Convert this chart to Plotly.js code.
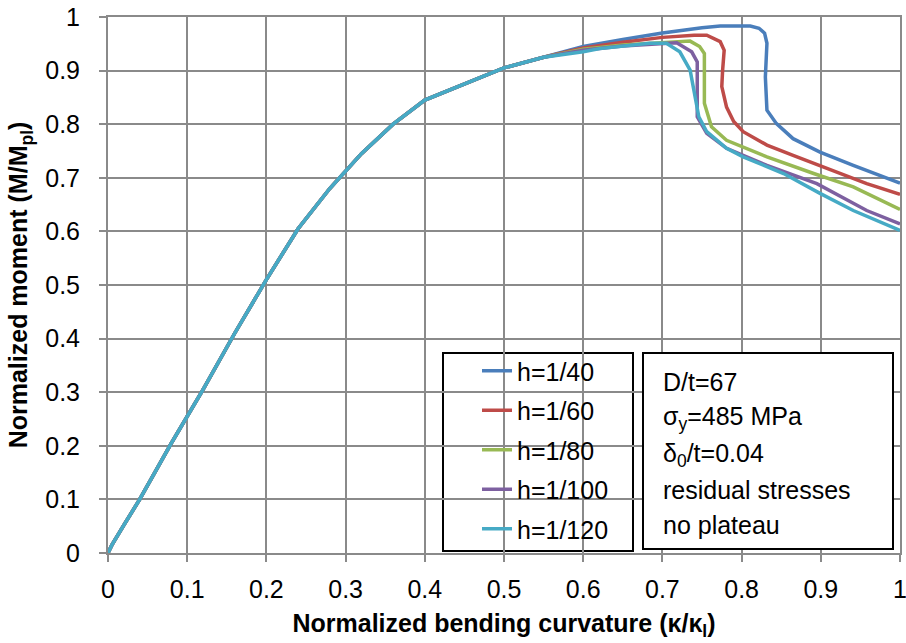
<!DOCTYPE html>
<html>
<head>
<meta charset="utf-8">
<script src="https://cdn.plot.ly/plotly-3.0.1.min.js"></script>
<style>html,body{margin:0;padding:0;background:#fff;}#chart{width:906px;height:643px;}</style>
</head>
<body>
<div id="chart"></div>
<script>
// ---- data ----
var seriesNames = ["h=1/40", "h=1/60", "h=1/80", "h=1/100", "h=1/120"];
var seriesColors = ["#4A7EBB", "#BE4B48", "#98B954", "#7D60A0", "#46AAC5"];

// shared rising branch
var riseX = [0, 0.005, 0.02, 0.04, 0.08, 0.12, 0.16, 0.20, 0.24, 0.28, 0.32, 0.36, 0.40, 0.45, 0.50, 0.55];
var riseY = [0, 0.015, 0.052, 0.10, 0.205, 0.305, 0.41, 0.51, 0.605, 0.68, 0.745, 0.80, 0.845, 0.875, 0.905, 0.925];

var h40X  = [0.60, 0.65, 0.70, 0.75, 0.773, 0.811, 0.822, 0.829, 0.832, 0.830, 0.832, 0.844, 0.865, 0.899, 0.941, 1.0];
var h40Y  = [0.945, 0.958, 0.970, 0.980, 0.983, 0.983, 0.979, 0.970, 0.951, 0.888, 0.826, 0.801, 0.773, 0.748, 0.723, 0.690];

var h60X  = [0.60, 0.65, 0.70, 0.74, 0.756, 0.773, 0.778, 0.776, 0.775, 0.781, 0.790, 0.802, 0.832, 0.865, 0.899, 0.924, 0.958, 1.0];
var h60Y  = [0.942, 0.953, 0.962, 0.966, 0.966, 0.954, 0.938, 0.900, 0.870, 0.832, 0.805, 0.786, 0.761, 0.742, 0.723, 0.708, 0.689, 0.669];

var h80X  = [0.60, 0.65, 0.70, 0.735, 0.747, 0.753, 0.753, 0.762, 0.781, 0.832, 0.891, 0.941, 1.0];
var h80Y  = [0.940, 0.948, 0.953, 0.955, 0.945, 0.932, 0.839, 0.795, 0.770, 0.739, 0.708, 0.683, 0.641];

var h100X = [0.60, 0.65, 0.70, 0.718, 0.737, 0.744, 0.744, 0.756, 0.781, 0.832, 0.895, 0.958, 1.0];
var h100Y = [0.938, 0.946, 0.951, 0.952, 0.935, 0.916, 0.814, 0.783, 0.755, 0.723, 0.689, 0.639, 0.614];

var h120X = [0.60, 0.621, 0.684, 0.705, 0.722, 0.735, 0.740, 0.746, 0.756, 0.781, 0.802, 0.853, 0.899, 0.941, 1.0];
var h120Y = [0.935, 0.941, 0.951, 0.951, 0.935, 0.901, 0.857, 0.814, 0.786, 0.755, 0.739, 0.708, 0.671, 0.639, 0.602];

var tickVals = [0, 0.1, 0.2, 0.3, 0.4, 0.5, 0.6, 0.7, 0.8, 0.9, 1];
var tickText = ["0", "0.1", "0.2", "0.3", "0.4", "0.5", "0.6", "0.7", "0.8", "0.9", "1"];

var infoLines = ["D/t=67", "σ<sub>y</sub>=485 MPa", "δ<sub>0</sub>/t=0.04", "residual stresses", "no plateau"];

// ---- build traces ----
var tailX = [h40X, h60X, h80X, h100X, h120X];
var tailY = [h40Y, h60Y, h80Y, h100Y, h120Y];
var FONT = "Liberation Sans, Arial, sans-serif";
var traces = seriesNames.map(function (name, i) {
  return {
    type: "scatter", mode: "lines", name: name,
    legendgroup: "g" + i,
    x: riseX.concat(tailX[i]), y: riseY.concat(tailY[i]),
    line: {color: seriesColors[i], width: 3.5},
    hoverinfo: "skip"
  };
});

var GRID = "#8a8a8a";
var axisCommon = {
  range: [0, 1], tickmode: "array", tickvals: tickVals, ticktext: tickText,
  showgrid: true, gridcolor: GRID, gridwidth: 2,
  showline: true, linecolor: GRID, linewidth: 2, mirror: true,
  zeroline: false, ticks: "outside", ticklen: 7, tickwidth: 2, tickcolor: GRID,
  ticklabeloverflow: "allow",
  tickfont: {family: FONT, size: 25, color: "#000"}, fixedrange: true
};

var px = function (v) { return (v - 108) / 792; };
var py = function (v) { return (553 - v) / 536; };

var lineYs = [381.7, 418.3, 455, 490, 525];
var annotations = infoLines.map(function (t, i) {
  return {
    xref: "paper", yref: "paper", x: px(661), y: py(lineYs[i]),
    xanchor: "left", yanchor: "middle", showarrow: false, align: "left",
    text: t, font: {family: FONT, size: 25, color: "#000"}
  };
});

var layout = {
  width: 906, height: 643,
  margin: {l: 108, r: 6, t: 17, b: 90},
  paper_bgcolor: "#fff", plot_bgcolor: "#fff",
  font: {family: FONT, size: 25, color: "#000"},
  xaxis: Object.assign({}, axisCommon, {
    ticklabelstandoff: 6,
    title: {text: "<b>Normalized bending curvature (κ/κ<sub>l</sub>)</b>", font: {family: FONT, size: 25, color: "#000"}, standoff: 12}
  }),
  yaxis: Object.assign({}, axisCommon, {
    ticklabelstandoff: 14,
    title: {text: "<b>Normalized moment (M/M<sub>pl</sub>)</b>", font: {family: FONT, size: 25, color: "#000"}, standoff: 10}
  }),
  showlegend: true,
  legend: {
    x: px(477), y: py(348), xanchor: "left", yanchor: "top",
    bgcolor: "rgba(0,0,0,0)", borderwidth: 0, tracegroupgap: 4,
    font: {family: FONT, size: 25, color: "#000"}, traceorder: "grouped"
  },
  shapes: [
    {type: "rect", xref: "paper", yref: "paper", x0: px(443), x1: px(633), y0: py(551), y1: py(353), line: {color: "#000", width: 2}, fillcolor: "#fff", layer: "below"},
    {type: "rect", xref: "paper", yref: "paper", x0: px(643), x1: px(893), y0: py(549), y1: py(353), line: {color: "#000", width: 2}, fillcolor: "#fff", layer: "above"}
  ],
  annotations: annotations
};

Plotly.newPlot("chart", traces, layout, {staticPlot: true, displayModeBar: false});
</script>
</body>
</html>
